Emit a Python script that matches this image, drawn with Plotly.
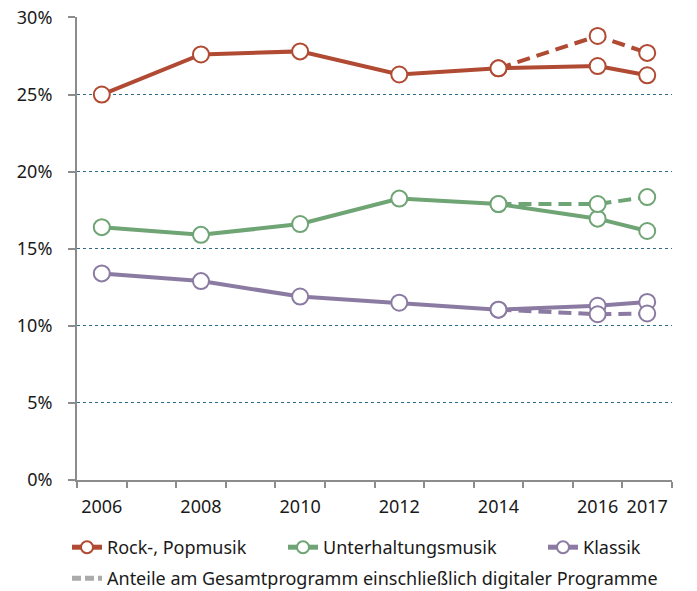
import plotly.graph_objects as go

years = [2006, 2008, 2010, 2012, 2014, 2016, 2017]
rock = [25.0, 27.6, 27.8, 26.3, 26.7, 26.85, 26.25]
unterhaltung = [16.4, 15.9, 16.6, 18.25, 17.9, 16.95, 16.15]
klassik = [13.4, 12.9, 11.9, 11.5, 11.05, 11.3, 11.55]

digital_years = [2014, 2016, 2017]
rock_digital = [26.7, 28.8, 27.7]
unterhaltung_digital = [17.9, 17.9, 18.35]
klassik_digital = [11.05, 10.75, 10.8]

names = ["Rock-, Popmusik", "Unterhaltungsmusik", "Klassik"]
dash_name = "Anteile am Gesamtprogramm einschließlich digitaler Programme"
colors = ["#B04A32", "#6FA475", "#8B7BA2"]

y_ticks = [0, 5, 10, 15, 20, 25, 30]
y_labels = [f"{v}%" for v in y_ticks]
x_ticks = [2006, 2008, 2010, 2012, 2014, 2016, 2017]

FONT = "Noto Sans"
W, H = 697, 591
OFF = 8  # page body margin
ML, MR, MT, MB = 77 - OFF, 33, 17 - OFF, 119
PW, PH = W - ML - MR, H - MT - MB
Y_TOP = 30.03


def px_x(px):
    return (px - OFF - ML) / PW


def px_y(py):
    return (H - MB - (py - OFF)) / PH


fig = go.Figure()

legend_ids = ["legend", "legend2", "legend3"]
for name, vals, col, lg in zip(names, [rock, unterhaltung, klassik], colors, legend_ids):
    fig.add_trace(go.Scatter(
        x=years, y=vals, name=name, mode="lines+markers", legend=lg,
        line=dict(color=col, width=4),
        marker=dict(size=16, color="white", line=dict(color=col, width=2)),
    ))

for vals, col in zip([rock_digital, unterhaltung_digital, klassik_digital], colors):
    fig.add_trace(go.Scatter(
        x=digital_years, y=vals, mode="lines+markers", showlegend=False,
        line=dict(color=col, width=4, dash="13px,7px"),
        marker=dict(size=16, color="white", line=dict(color=col, width=2)),
    ))

fig.add_trace(go.Scatter(
    x=[None], y=[None], name=dash_name, mode="lines", legend="legend4",
    line=dict(color="#ABABAB", width=4, dash="9px,4px"),
))

legend_font = dict(family=FONT, size=18, color="#1a1a1a")


def leg(text_x, center_y):
    return dict(
        orientation="h", x=px_x(text_x - 40), y=px_y(center_y - 18),
        xanchor="left", yanchor="top", itemsizing="constant",
        font=legend_font, bgcolor="rgba(0,0,0,0)", borderwidth=0,
    )


fig.update_layout(
    width=W, height=H,
    margin=dict(l=ML, r=MR, t=MT, b=MB, autoexpand=False),
    paper_bgcolor="white", plot_bgcolor="white",
    font=dict(family=FONT, size=18, color="#1a1a1a"),
    showlegend=True,
    legend=leg(107, 547),
    legend2=leg(323, 547),
    legend3=leg(583, 547),
    legend4=leg(107, 578),
)

fig.update_xaxes(
    range=[2005.5, 2017.5],
    tickvals=x_ticks, ticktext=[str(v) for v in x_ticks],
    ticks="", showgrid=False, zeroline=False,
    showline=True, linecolor="#8C8C8C", linewidth=2,
    ticklabelstandoff=9,
    minor=dict(ticks="outside", tick0=2005.5, dtick=1, ticklen=6,
               tickcolor="#8C8C8C", tickwidth=2, showgrid=False),
)

fig.update_yaxes(
    range=[0, Y_TOP],
    tickvals=y_ticks, ticktext=y_labels,
    ticks="outside", ticklen=7, tickcolor="#8C8C8C", tickwidth=2,
    showline=True, linecolor="#8C8C8C", linewidth=2,
    showgrid=True, gridcolor="#2F6E8A", gridwidth=1, griddash="dot",
    zeroline=False, ticklabelstandoff=12, ticklabeloverflow="allow",
)

fig.write_html("out.html")
